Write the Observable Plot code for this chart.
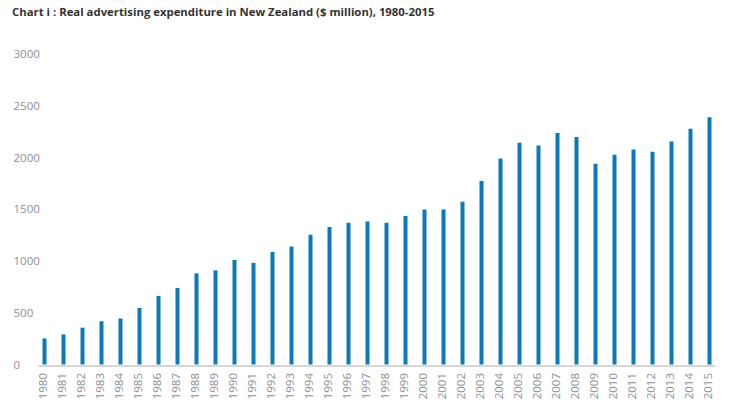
<!DOCTYPE html>
<html>
<head>
<meta charset="utf-8">
<script src="https://cdn.jsdelivr.net/npm/d3@7"></script>
<script src="https://cdn.jsdelivr.net/npm/@observablehq/plot@0.6"></script>
<style>
  body { margin: 0; background: #fff; font-family: "Open Sans", sans-serif; }
  #title { height: 26px; line-height: 24px; padding-left: 12px; font-size: 11.35px; font-weight: bold; color: #333; white-space: nowrap; }
</style>
</head>
<body>
<div id="title">Chart i : Real advertising expenditure in New Zealand ($ million), 1980-2015</div>
<div id="chart"></div>
<script>
const years = ["1980","1981","1982","1983","1984","1985","1986","1987","1988","1989",
  "1990","1991","1992","1993","1994","1995","1996","1997","1998","1999",
  "2000","2001","2002","2003","2004","2005","2006","2007","2008","2009",
  "2010","2011","2012","2013","2014","2015"];
const spend = [242, 281, 346, 408, 435, 536, 653, 730, 871, 900,
  1000, 972, 1078, 1130, 1243, 1320, 1361, 1373, 1361, 1424,
  1489, 1489, 1564, 1763, 1980, 2134, 2106, 2228, 2189, 1930,
  2018, 2068, 2045, 2145, 2268, 2380];
const yTicks = [0, 500, 1000, 1500, 2000, 2500, 3000];

const data = years.map((y, i) => ({year: y, value: spend[i]}));

const W = 730, H = 391;
const chart = Plot.plot({
  width: W,
  height: H,
  marginLeft: 40.7,
  marginRight: 16.7,
  marginTop: 28,
  marginBottom: 52.5,
  style: {fontFamily: "'Open Sans', sans-serif", fontSize: "11.5px", color: "#999", background: "#fff"},
  x: {type: "point", domain: years, padding: 0},
  y: {domain: [0, 3000]},
  marks: [
    Plot.ruleY([0], {stroke: "#c8c8c8", strokeWidth: 1.5, dy: 1, insetLeft: -2.5, insetRight: -2}),
    Plot.ruleX(data, {x: "year", y1: 0, y2: "value", stroke: "#0a7ab8", strokeWidth: 4, insetBottom: 1}),
    Plot.axisY(yTicks, {tickSize: 0, tickPadding: 0, textAnchor: "start", dx: -27.7, fill: "#8e8e94", label: null, fontSize: 11.5, tickFormat: d3.format("d")}),
    Plot.axisX(years, {tickSize: 0, tickPadding: 8, tickRotate: -90, fill: "#8e8e94", label: null, fontSize: 11.5, dx: -1})
  ]
});
document.getElementById("chart").appendChild(chart);
</script>
</body>
</html>
